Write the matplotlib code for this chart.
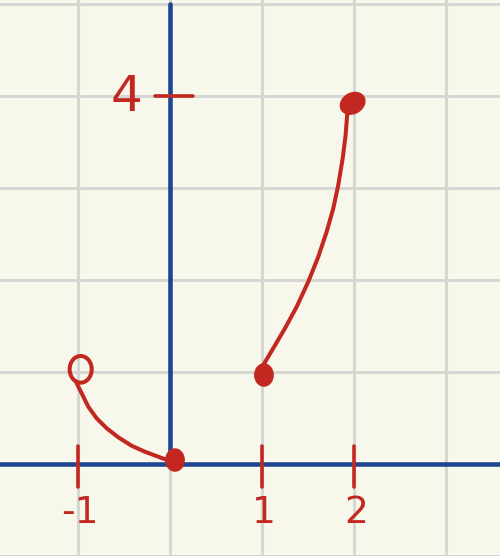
import matplotlib.pyplot as plt
from matplotlib.patches import Ellipse

# values (data units, 1 grid square = 1)
left_x = [-1.027, -0.965, -0.893, -0.802, -0.693, -0.567, -0.422, -0.277, -0.133, -0.005]
left_y = [0.889, 0.763, 0.617, 0.491, 0.383, 0.285, 0.193, 0.128, 0.074, 0.027]
right_x = [1.009, 1.117, 1.245, 1.372, 1.498, 1.607, 1.698, 1.770, 1.824, 1.872, 1.904, 1.922]
right_y = [1.071, 1.252, 1.470, 1.704, 1.976, 2.248, 2.520, 2.774, 3.027, 3.317, 3.571, 3.807]

open_pt = (-0.976, 1.024)
closed_pts = [(0.049, 0.038), (1.016, 0.962)]
top_pt = (1.98, 3.915)

x_ticks = [-1, 1, 2]
x_labels = ["-1", "1", "2"]
y_ticks = [4]
y_labels = ["4"]

bg = "#f8f7ec"
red = "#c2281f"
blue = "#1d4690"
grid_c = "#d6d6d4"

fig = plt.figure(figsize=(5, 5.56), dpi=100)
fig.patch.set_facecolor(bg)
ax = fig.add_axes([0, 0, 1, 1])
ax.set_facecolor(bg)
ax.set_xlim(-1.853, 3.582)
ax.set_ylim(-1.005, 5.038)
ax.axis("off")

# grid
for gx in [-1.995, -1.0, 0.0, 1.0, 2.0, 2.995]:
    ax.axvline(gx, color=grid_c, lw=2.2, zorder=0)
for gy in [-1.0, 1.0, 2.0, 3.0, 4.0, 4.99]:
    ax.axhline(gy, color=grid_c, lw=2.2, zorder=0)

# axes
ax.axhline(0, color=blue, lw=3.3, zorder=1)
ax.plot([0, 0], [0, 4.99], color=blue, lw=3.3, zorder=1, solid_capstyle="round")

# curves
ax.plot(left_x, left_y, color=red, lw=2.9, solid_capstyle="round",
        solid_joinstyle="round", zorder=3)
ax.plot(right_x, right_y, color=red, lw=2.9, solid_capstyle="round",
        solid_joinstyle="round", zorder=3)

# endpoints
ax.add_patch(Ellipse(open_pt, 0.24, 0.29, fill=False, ec=red, lw=2.9, zorder=4))
for p in closed_pts:
    ax.add_patch(Ellipse(p, 0.2, 0.24, color=red, zorder=4))
ax.add_patch(Ellipse(top_pt, 0.28, 0.22, angle=30, color=red, zorder=4))

# ticks and labels
for t, lab in zip(x_ticks, x_labels):
    ax.plot([t, t], [0.19, -0.26], color=red, lw=2.6, solid_capstyle="round", zorder=5)
    ax.text(t + 0.02, -0.54, lab, color=red, fontsize=27, ha="center", va="center",
            family="DejaVu Sans")
for t, lab in zip(y_ticks, y_labels):
    ax.plot([-0.17, 0.24], [t, t], color=red, lw=2.6, solid_capstyle="round", zorder=5)
    ax.text(-0.48, t - 0.02, lab, color=red, fontsize=36, ha="center", va="center",
            family="DejaVu Sans")

fig.savefig("out.png", dpi=100, facecolor=bg)
